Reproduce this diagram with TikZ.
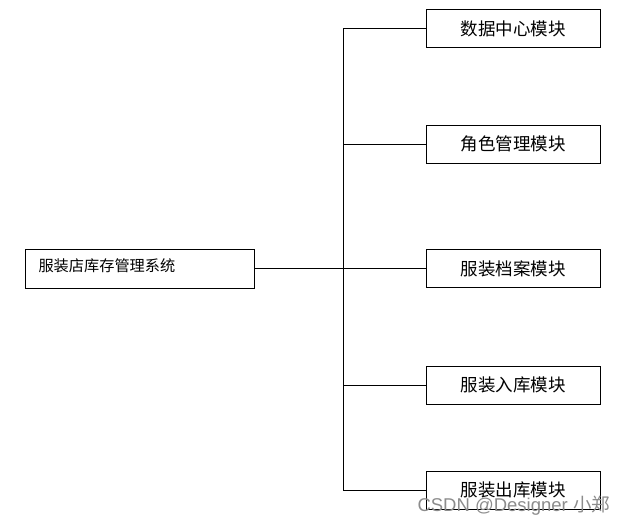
\documentclass[tikz,border=0pt]{standalone}
\usepackage{fontspec}
\setmainfont{Liberation Sans}
\newfontfamily\cjk{Noto Sans CJK SC}
\begin{document}
\begin{tikzpicture}[x=1pt,y=-1pt,
  box/.style={draw,line width=0.8pt,minimum width=174pt,minimum height=38pt,inner sep=0pt,font=\cjk\fontsize{17.5}{17.5}\selectfont},
  mainbox/.style={draw,line width=0.8pt,minimum width=229pt,minimum height=39pt,inner sep=0pt},
  conn/.style={line width=0.8pt}]
\useasboundingbox (0,0) rectangle (627,525);
\fill[white] (0,0) rectangle (627,525);
\node[mainbox] (sys) at (139.5,268.5) {};
\node[anchor=west,font=\cjk\fontsize{15.2}{15.2}\selectfont] (syst) at (35,266) {服装店库存管理系统};
\node[box] (m1) at (513,28.5) {数据中心模块};
\node[box] (m2) at (513,144) {角色管理模块};
\node[box] (m3) at (513,268.5) {服装档案模块};
\node[box] (m4) at (513,385) {服装入库模块};
\node[box] (m5) at (513,490) {服装出库模块};
\coordinate (j) at (343,268.5);
\coordinate (t) at (343,28.5);
\coordinate (b) at (343,490);
\draw[conn] (sys.east) -- (m3.west);
\draw[conn] (m1.west) -- (t) -- (b) -- (m5.west);
\draw[conn] (m2.west) -- (343,144);
\draw[conn] (m4.west) -- (343,385);
\node[anchor=west,text=black!45,font=\fontsize{18.5}{18.5}\selectfont] (wm) at (414,506) {CSDN @Designer {\cjk 小郑}};
\end{tikzpicture}
\end{document}
